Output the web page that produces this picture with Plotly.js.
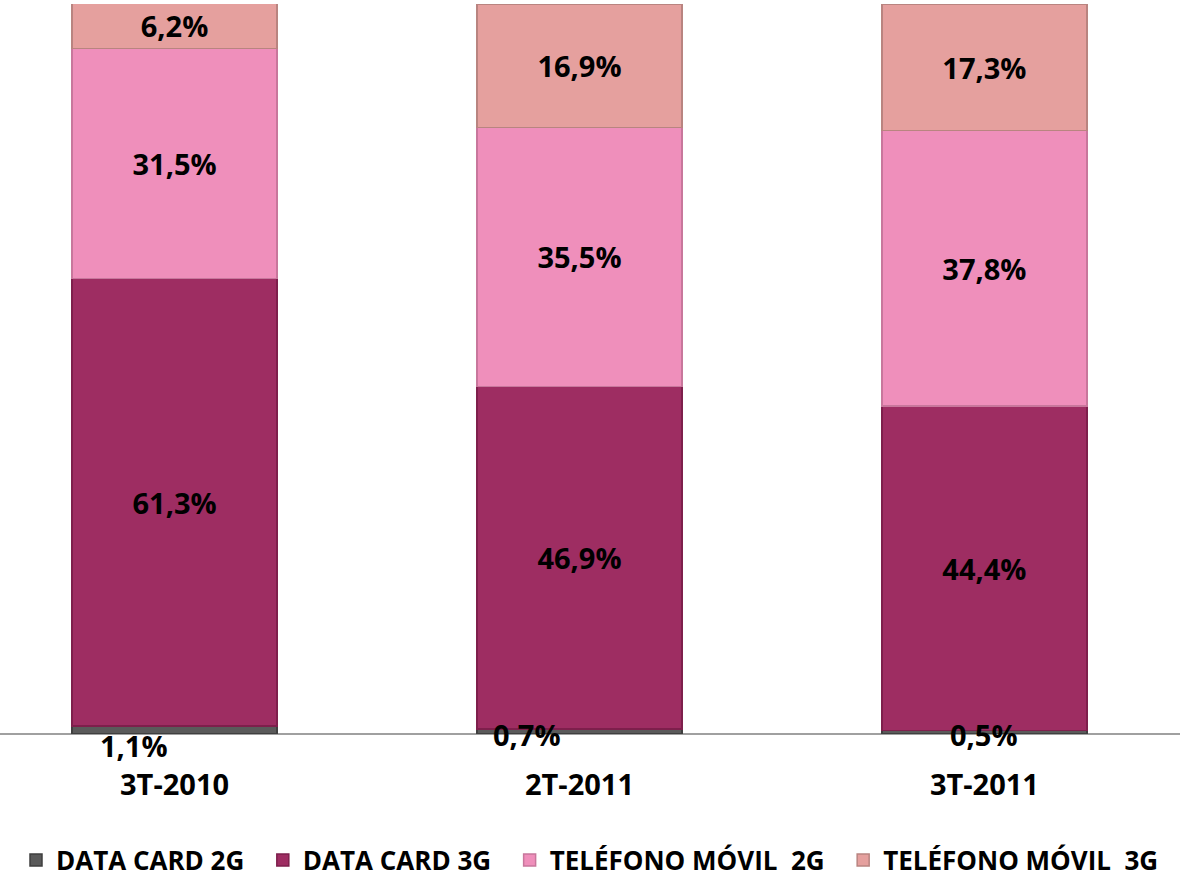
<!DOCTYPE html>
<html>
<head>
<meta charset="utf-8">
<script src="https://cdn.plot.ly/plotly-3.0.1.min.js"></script>
<style>html,body{margin:0;padding:0;background:#fff;}#chart{width:1180px;height:878px;}</style>
</head>
<body>
<div id="chart"></div>
<script>
const categories = ["3T-2010", "2T-2011", "3T-2011"];
const seriesNames = ["DATA CARD 2G", "DATA CARD 3G", "TELÉFONO MÓVIL  2G", "TELÉFONO MÓVIL  3G"];
const dataCard2G = [1.1, 0.7, 0.5];
const dataCard3G = [61.3, 46.9, 44.4];
const movil2G = [31.5, 35.5, 37.8];
const movil3G = [6.2, 16.9, 17.3];

const colors = ["#5a5a5a", "#9e2d62", "#ef8fbb", "#e5a09e"];
const edgeColors = ["#3f3f3f", "#7e1f4c", "#c8779c", "#b98480"];
const FONT = "Open Sans, sans-serif";
const FS = 29;
const PAD = "\u00a0\u00a0";

const fmt = v => v.toFixed(1).replace(".", ",") + "%";
const xIdx = categories.map((c, i) => i);

const series = [dataCard2G, dataCard3G, movil2G, movil3G];
const traces = series.map((vals, k) => ({
  type: "bar",
  name: seriesNames[k] + (k < 3 ? PAD : ""),
  x: xIdx,
  y: vals,
  width: 0.506,
  marker: {color: colors[k], line: {color: edgeColors[k], width: 1.5}},
  text: k === 0 ? vals.map(() => "") : vals.map(fmt),
  textposition: k === 0 ? "none" : "inside",
  insidetextanchor: "middle",
  textangle: 0,
  constraintext: "none",
  textfont: {family: FONT, size: FS, color: "#000", weight: 700},
  hoverinfo: "none"
}));

// small-segment labels (Data Card 2G), offset as in the original
const smallOffsets = [-0.1, -0.13, 0];
const smallY = [-1.6, -0.1, -0.1];
const annotations = dataCard2G.map((v, i) => ({
  x: xIdx[i] + smallOffsets[i],
  y: smallY[i] / 100,
  xref: "x", yref: "paper", yanchor: "middle", xanchor: "center",
  text: fmt(v),
  showarrow: false,
  font: {family: FONT, size: FS, color: "#000", weight: 700}
}));

const layout = {
  width: 1180, height: 878,
  margin: {l: 0, r: 0, t: 4, b: 144, autoexpand: false},
  barmode: "stack",
  paper_bgcolor: "#fff",
  plot_bgcolor: "#fff",
  showlegend: true,
  legend: {
    orientation: "h", x: 0.5, xanchor: "center",
    yref: "container", y: 0.0205, yanchor: "middle",
    font: {family: FONT, size: 26, color: "#000", weight: 700},
    traceorder: "normal", itemwidth: 30
  },
  xaxis: {
    range: [-0.431, 2.483], automargin: false,
    tickmode: "array", tickvals: xIdx, ticktext: categories,
    tickfont: {family: FONT, size: FS, color: "#000", weight: 700},
    showline: false, showgrid: false, zeroline: false, ticks: "",
    ticklabelstandoff: 31
  },
  yaxis: {
    range: [0, 100], visible: true, showticklabels: false, showgrid: false, automargin: false,
    zeroline: true, zerolinecolor: "#a0a0a0", zerolinewidth: 1.5, showline: false, ticks: ""
  },
  annotations: annotations
};

Plotly.newPlot("chart", traces, layout, {staticPlot: true});
</script>
</body>
</html>
